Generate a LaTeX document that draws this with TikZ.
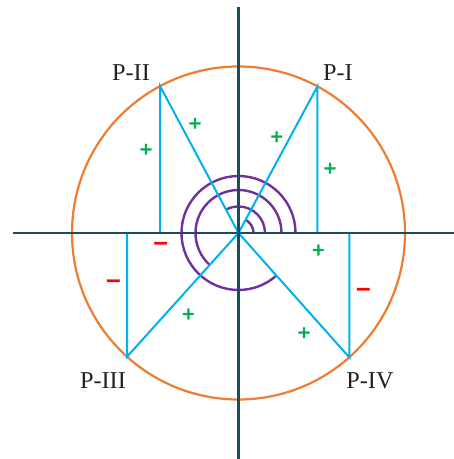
\documentclass[tikz,border=0pt]{standalone}
\usepackage{fontspec}
\newfontfamily\signfont[FakeBold=1.2]{DejaVu Sans Bold}
\newfontfamily\labfont{Liberation Serif}
\definecolor{axiscol}{HTML}{1B4D5C}
\definecolor{circcol}{HTML}{ED7D31}
\definecolor{linecol}{HTML}{00B0F0}
\definecolor{arccol}{HTML}{7030A0}
\definecolor{pluscol}{HTML}{00B050}
\definecolor{minuscol}{HTML}{FF0000}
\definecolor{textcol}{HTML}{231F20}
\begin{document}
\begin{tikzpicture}[x=1bp,y=1bp,
  axis/.style={draw=axiscol,line width=2.6bp},
  circ/.style={draw=circcol,line width=2.2bp},
  seg/.style={draw=linecol,line width=2bp},
  arcline/.style={draw=arccol,line width=2.4bp},
  plab/.style={inner sep=0pt,text=textcol,font=\labfont\fontsize{24.3}{26}\selectfont},
  plussign/.style={inner sep=0pt,text=pluscol,font=\signfont\fontsize{17}{18}\selectfont},
  minussign/.style={inner sep=0pt,text=minuscol,font=\signfont\fontsize{20}{20}\selectfont}]
\useasboundingbox (-238.5,-226) rectangle (215.5,233);
\coordinate (O) at (0,0);
\coordinate (L) at (-225.5,0);
\coordinate (R) at (215.5,0);
\coordinate (T) at (0,226);
\coordinate (B) at (0,-226);
\coordinate (P1) at (61.7:166.5);
\coordinate (P2) at (118.1:166.5);
\coordinate (P3) at (228:166.5);
\coordinate (P4) at (311.7:166.5);
% circle
\draw[circ] (O) circle[radius=166.5];
% arcs
\draw[arcline] (15,0) arc[start angle=0,end angle=61.7,radius=15];
\draw[arcline] (26.5,0) arc[start angle=0,end angle=118.1,radius=26.5];
\draw[arcline] (43,0) arc[start angle=0,end angle=228,radius=43];
\draw[arcline] (57,0) arc[start angle=0,end angle=311.7,radius=57];
% segments
\draw[seg] (O) -- (P1) -- (P1 |- O);
\draw[seg] (O) -- (P2) -- (P2 |- O);
\draw[seg] (O) -- (P3) -- (P3 |- O);
\draw[seg] (O) -- (P4) -- (P4 |- O);
% axes
\draw[axis] (L) -- (R);
\draw[axis] (B) -- (T);
% labels
\node[plab] (l1) at (99.5,160) {P-I};
\node[plab] (l2) at (-107.5,160) {P-II};
\node[plab] (l3) at (-135.5,-148) {P-III};
\node[plab] (l4) at (131.5,-148) {P-IV};
% signs
\node[plussign] (s1) at (-43.5,109.7) {+};
\node[plussign] (s2) at (-92.5,83.7) {+};
\node[plussign] (s3) at (38.2,96.3) {+};
\node[plussign] (s4) at (91.5,64.7) {+};
\node[minussign] (s5) at (-77.8,-12.7) {−};
\node[plussign] (s6) at (79.8,-17) {+};
\node[minussign] (s7) at (-125.2,-50.3) {−};
\node[plussign] (s8) at (-50.2,-81) {+};
\node[minussign] (s9) at (124.8,-58.7) {−};
\node[plussign] (s10) at (65.5,-99.7) {+};
\end{tikzpicture}
\end{document}
